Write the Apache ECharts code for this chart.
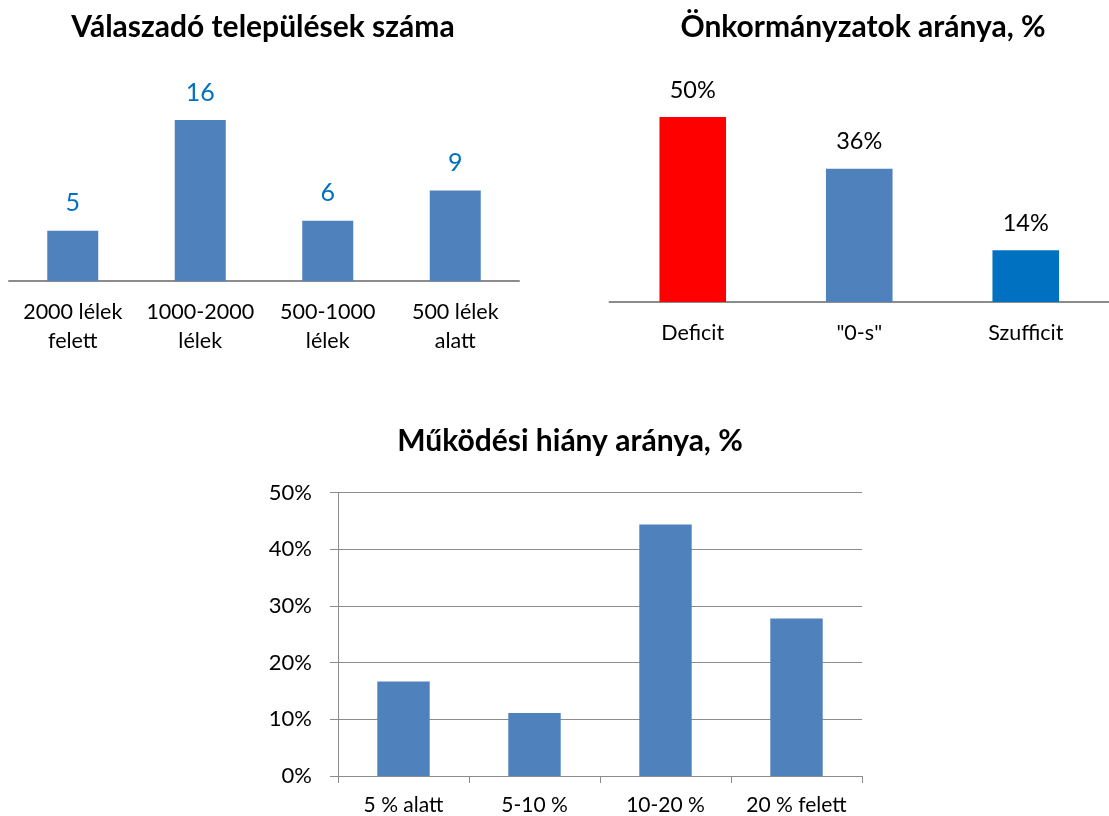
<!DOCTYPE html>
<html>
<head>
<meta charset="utf-8">
<script src="https://cdn.jsdelivr.net/npm/echarts@6/dist/echarts.min.js"></script>
<style>
html,body{margin:0;padding:0;background:#fff;}
#c{width:1109px;height:816px;}
</style>
</head>
<body>
<div id="c"></div>
<script>
// Chart 1: Válaszadó települések száma
const title1 = 'Válaszadó települések száma';
const categories1 = ['2000 lélek\nfelett', '1000-2000\nlélek', '500-1000\nlélek', '500 lélek\nalatt'];
const values1 = [5, 16, 6, 9];

// Chart 2: Önkormányzatok aránya, %
const title2 = 'Önkormányzatok aránya, %';
const categories2 = ['Deficit', '"0-s"', 'Szufficit'];
const values2 = [50, 36, 14];
const colors2 = ['#FF0000', '#4F81BD', '#0070C0'];

// Chart 3: Működési hiány aránya, %
const title3 = 'Működési hiány aránya, %';
const categories3 = ['5 % alatt', '5-10 %', '10-20 %', '20 % felett'];
const values3 = [16.7, 11.1, 44.4, 27.8];
const yTicks3 = [0, 10, 20, 30, 40, 50];

const FONT = 'Lato';
const barBlue = '#4F81BD';
const axisGray = '#8C8C8C';

const chart = echarts.init(document.getElementById('c'), null, {renderer: 'canvas'});

const titleStyle = {fontFamily: FONT, fontWeight: 'bold', fontSize: 30, color: '#000'};

chart.setOption({
  animation: false,
  backgroundColor: '#fff',
  title: [
    {text: title1, left: 263, top: 12, textAlign: 'center', padding: 0, textStyle: titleStyle},
    {text: title2, left: 863, top: 12, textAlign: 'center', padding: 0, textStyle: titleStyle},
    {text: title3, left: 570, top: 426, textAlign: 'center', padding: 0, textStyle: titleStyle}
  ],
  grid: [
    {left: 9, width: 510, top: 100, height: 181},
    {left: 609.5, width: 507, top: 80, height: 222},
    {left: 338, width: 524, top: 492.7, height: 283.5}
  ],
  xAxis: [
    {
      gridIndex: 0, type: 'category', data: categories1,
      axisLine: {lineStyle: {color: axisGray, width: 2}},
      axisTick: {show: false},
      axisLabel: {color: '#000', fontFamily: FONT, fontSize: 21.5, lineHeight: 29, margin: 17, interval: 0}
    },
    {
      gridIndex: 1, type: 'category', data: categories2,
      axisLine: {lineStyle: {color: axisGray, width: 2}},
      axisTick: {show: false},
      axisLabel: {color: '#000', fontFamily: FONT, fontSize: 21.5, margin: 20, interval: 0}
    },
    {
      gridIndex: 2, type: 'category', data: categories3,
      axisLine: {lineStyle: {color: axisGray, width: 1}},
      axisTick: {show: true, interval: 0, length: 7, lineStyle: {color: axisGray}},
      axisLabel: {color: '#000', fontFamily: FONT, fontSize: 21, margin: 19, interval: 0}
    }
  ],
  yAxis: [
    {gridIndex: 0, type: 'value', min: 0, max: 18, show: false, splitLine: {show: false}},
    {gridIndex: 1, type: 'value', min: 0, max: 60, show: false, splitLine: {show: false}},
    {
      gridIndex: 2, type: 'value', min: yTicks3[0], max: yTicks3[yTicks3.length - 1], interval: 10,
      axisLine: {show: true, lineStyle: {color: axisGray, width: 1}},
      axisTick: {show: true, length: 8, lineStyle: {color: axisGray}},
      splitLine: {show: true, lineStyle: {color: axisGray, width: 1}},
      axisLabel: {color: '#000', fontFamily: FONT, fontSize: 22, margin: 26, formatter: '{value}%'}
    }
  ],
  series: [
    {
      type: 'bar', xAxisIndex: 0, yAxisIndex: 0, data: values1,
      barCategoryGap: '60%',
      itemStyle: {color: barBlue},
      label: {show: true, position: 'top', distance: 15, color: '#0070C0', fontFamily: FONT, fontSize: 25}
    },
    {
      type: 'bar', xAxisIndex: 1, yAxisIndex: 1,
      data: values2.map((v, i) => ({value: v, itemStyle: {color: colors2[i]}})),
      barCategoryGap: '60%',
      label: {show: true, position: 'top', distance: 15, color: '#000', fontFamily: FONT, fontSize: 23.5, formatter: '{c}%'}
    },
    {
      type: 'bar', xAxisIndex: 2, yAxisIndex: 2, data: values3,
      barCategoryGap: '60%',
      itemStyle: {color: barBlue},
      label: {show: false}
    }
  ]
});
</script>
</body>
</html>
